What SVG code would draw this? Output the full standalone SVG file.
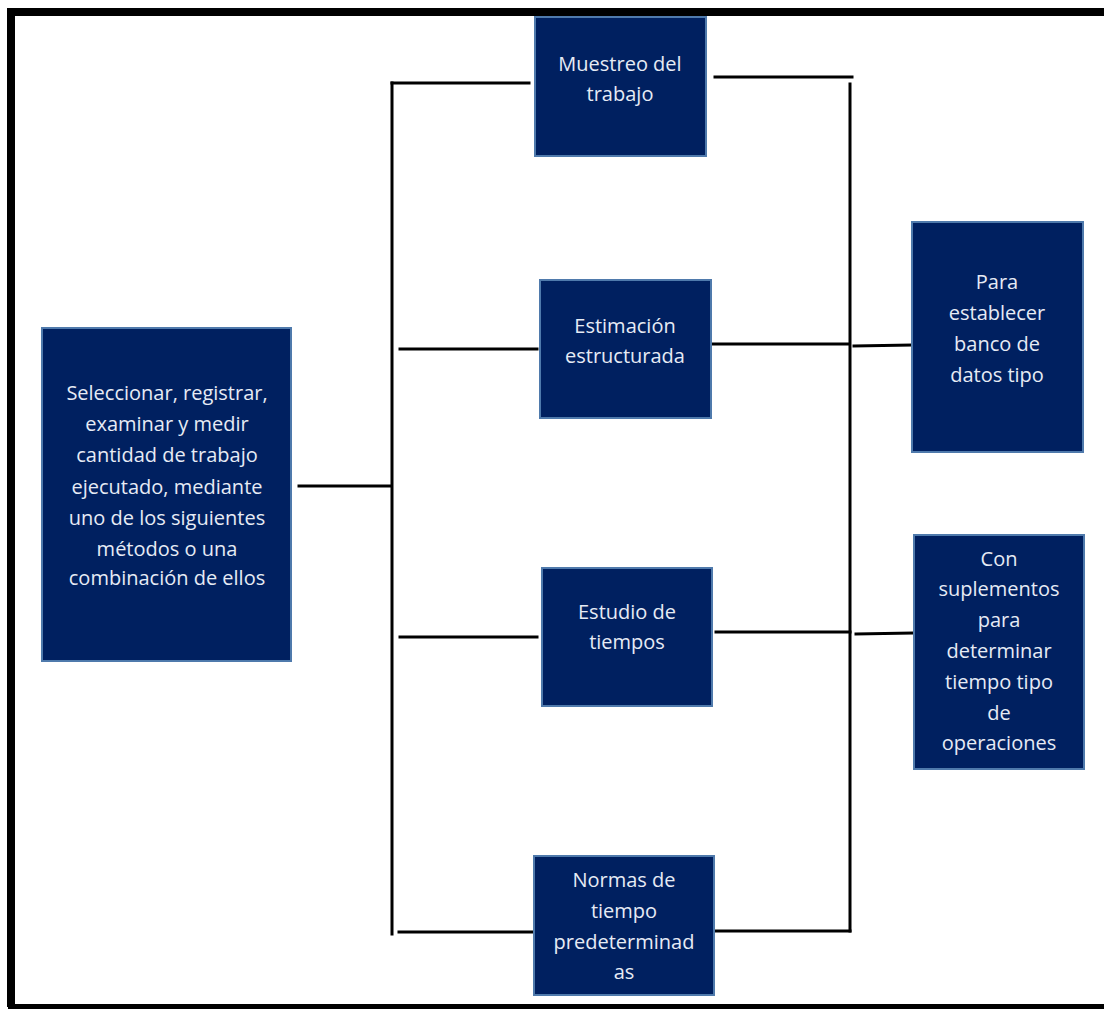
<svg xmlns="http://www.w3.org/2000/svg" width="1104" height="1009" viewBox="0 0 1104 1009">
<style>
.box{fill:#002060;stroke:#4f7aac;stroke-width:2}
.t{font-family:"Open Sans","Liberation Sans",sans-serif;font-size:20px;fill:#e6ebf5;text-anchor:middle}
.ln{stroke:#000;stroke-width:3;fill:none;stroke-linecap:square}
</style>
<rect x="0" y="0" width="1104" height="1009" fill="#fff"/>
<path d="M11,1007 V12 H1110" fill="none" stroke="#000" stroke-width="8"/>
<line x1="8" y1="1006.5" x2="1110" y2="1006.5" stroke="#000" stroke-width="5"/>
<g id="connectors" class="ln">
<line x1="392" y1="83" x2="392" y2="934"/>
<line x1="392" y1="83" x2="529" y2="83"/>
<line x1="299" y1="486" x2="391" y2="486"/>
<line x1="400" y1="349" x2="537" y2="349"/>
<line x1="400" y1="637" x2="537" y2="637"/>
<line x1="399" y1="932" x2="532" y2="932"/>
<line x1="850" y1="84" x2="850" y2="931"/>
<line x1="715" y1="77" x2="852" y2="77"/>
<line x1="711" y1="344" x2="848" y2="344"/>
<line x1="716" y1="632" x2="850" y2="632"/>
<line x1="714" y1="931" x2="850" y2="931"/>
<line x1="854" y1="346" x2="911" y2="345"/>
<line x1="856" y1="634" x2="912" y2="633"/>
</g>
<g id="n-left">
<rect class="box" x="42" y="328" width="249" height="333"/>
<text class="t"><tspan x="167" y="400">Seleccionar, registrar,</tspan><tspan x="167" y="431">examinar y medir</tspan><tspan x="167" y="462">cantidad de trabajo</tspan><tspan x="167" y="494">ejecutado, mediante</tspan><tspan x="167" y="525">uno de los siguientes</tspan><tspan x="167" y="556">métodos o una</tspan><tspan x="167" y="585">combinación de ellos</tspan></text>
</g>
<g id="n-muestreo">
<rect class="box" x="535" y="17" width="171" height="139"/>
<text class="t"><tspan x="620" y="71">Muestreo del</tspan><tspan x="620" y="101">trabajo</tspan></text>
</g>
<g id="n-estimacion">
<rect class="box" x="540" y="280" width="171" height="138"/>
<text class="t"><tspan x="625" y="333">Estimación</tspan><tspan x="625" y="363">estructurada</tspan></text>
</g>
<g id="n-estudio">
<rect class="box" x="542" y="568" width="170" height="138"/>
<text class="t"><tspan x="627" y="619">Estudio de</tspan><tspan x="627" y="649">tiempos</tspan></text>
</g>
<g id="n-normas">
<rect class="box" x="534" y="856" width="180" height="139"/>
<text class="t"><tspan x="624" y="887">Normas de</tspan><tspan x="624" y="918">tiempo</tspan><tspan x="624" y="949">predeterminad</tspan><tspan x="624" y="979">as</tspan></text>
</g>
<g id="n-para">
<rect class="box" x="912" y="222" width="171" height="230"/>
<text class="t"><tspan x="997" y="289">Para</tspan><tspan x="997" y="320">establecer</tspan><tspan x="997" y="351">banco de</tspan><tspan x="997" y="382">datos tipo</tspan></text>
</g>
<g id="n-con">
<rect class="box" x="914" y="535" width="170" height="234"/>
<text class="t"><tspan x="999" y="566">Con</tspan><tspan x="999" y="596">suplementos</tspan><tspan x="999" y="627">para</tspan><tspan x="999" y="658">determinar</tspan><tspan x="999" y="689">tiempo tipo</tspan><tspan x="999" y="720">de</tspan><tspan x="999" y="750">operaciones</tspan></text>
</g>
</svg>
